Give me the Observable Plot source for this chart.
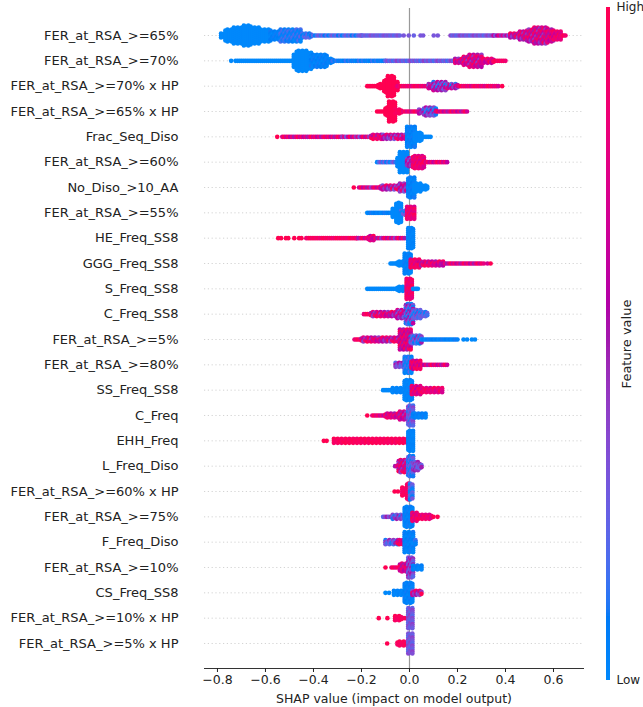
<!DOCTYPE html>
<html><head><meta charset="utf-8">
<script src="https://cdn.jsdelivr.net/npm/d3@7"></script>
<script src="https://cdn.jsdelivr.net/npm/@observablehq/plot@0.6"></script>
<style>
body{margin:0;background:#fff;}
#chart{position:relative;width:643px;height:707px;font-family:"DejaVu Sans",sans-serif;}
#chart svg{position:absolute;top:0;}
</style></head><body><div id="chart"></div>
<script>
// Feature names, top to bottom
const features = ["FER_at_RSA_>=65%", "FER_at_RSA_>=70%", "FER_at_RSA_>=70% x HP", "FER_at_RSA_>=65% x HP",
  "Frac_Seq_Diso", "FER_at_RSA_>=60%", "No_Diso_>10_AA", "FER_at_RSA_>=55%", "HE_Freq_SS8", "GGG_Freq_SS8",
  "S_Freq_SS8", "C_Freq_SS8", "FER_at_RSA_>=5%", "FER_at_RSA_>=80%", "SS_Freq_SS8", "C_Freq", "EHH_Freq",
  "L_Freq_Diso", "FER_at_RSA_>=60% x HP", "FER_at_RSA_>=75%", "F_Freq_Diso", "FER_at_RSA_>=10%",
  "CS_Freq_SS8", "FER_at_RSA_>=10% x HP", "FER_at_RSA_>=5% x HP"];
const xTicks = [-0.8, -0.6, -0.4, -0.2, 0.0, 0.2, 0.4, 0.6];
const colorLabels = ["Low", "High"];
const colorTitle = "Feature value";

// Swarm segments per feature: [shapFrom, shapTo, stackDepth (points each side), featureValueA, featureValueB]
const sFER65 = [[-0.785,-0.767,1,0],[-0.767,-0.732,3,0],[-0.732,-0.69,4,0],[-0.69,-0.662,5,0],[-0.662,-0.628,4,0],
  [-0.628,-0.579,3,0],[-0.579,-0.537,2,0,0.1],[-0.537,-0.454,3,0,0.2],[-0.454,-0.41,1,0,0.25],[-0.41,-0.2,0,0.05,0.3],
  [-0.2,-0.04,0,0.2,0.35],[-0.024,-0.024,0,0.3],[-0.003,-0.003,0,0.3],[0.018,0.018,0,0.25],[0.046,0.046,0,0.3],
  [0.057,0.057,0,0.3],[0.101,0.101,0,0.3],[0.118,0.118,0,0.3],[0.171,0.35,0,0.2,0.4],[0.35,0.42,0,0.3,0.8],
  [0.42,0.46,1,0.4,1],[0.46,0.49,2,0.4,1],[0.49,0.52,3,0.4,1],[0.52,0.575,4,0.4,1],[0.575,0.60,3,0.5,1],
  [0.60,0.63,2,0.6,1],[0.63,0.65,0,0.8,1]];
const sFER70 = [[-0.743,-0.743,0,0],[-0.725,-0.482,0,0],[-0.482,-0.47,3,0],[-0.47,-0.43,5,0],[-0.43,-0.41,4,0],
  [-0.41,-0.345,3,0,0.1],[-0.345,-0.32,1,0,0.1],[-0.32,-0.1,0,0,0.15],[-0.1,0.19,0,0.15,0.4],[0.19,0.226,1,0.4,1],
  [0.226,0.25,2,0.4,1],[0.25,0.30,3,0.4,1],[0.30,0.35,1,0.6,1],[0.35,0.40,0,0.85,1]];
const sFER70HP = [[-0.176,-0.13,0,1],[-0.13,-0.105,1,1],[-0.105,-0.09,3,1],[-0.09,-0.065,5,1],[-0.065,-0.05,2,1],
  [-0.05,0.08,0,0.75,1],[0.08,0.1,1,0.3,0.8],[0.1,0.15,2,0.1,0.7],[0.15,0.2,1,0,0.8],[0.2,0.37,0,0.7,1],[0.386,0.386,0,1]];
const sFER65HP = [[-0.135,-0.1,0,1],[-0.1,-0.085,2,1],[-0.085,-0.06,5,1],[-0.06,-0.035,1,0.9,1],[-0.035,0.04,0,0.7,1],
  [0.04,0.06,1,0.3,0.7],[0.06,0.11,2,0,0.6],[0.11,0.24,0,0.5,1]];
const sFracDiso = [[-0.551,-0.551,0,1],[-0.53,-0.28,0,0.5,1],[-0.28,-0.16,0,0.3,1],[-0.16,-0.11,1,0.5,1],
  [-0.11,-0.01,1,0.3,0.9],[-0.01,0.022,5,0,0.1],[0.022,0.05,2,0],[0.05,0.088,0,0]];
const sFER60 = [[-0.135,-0.05,0,0,0.35],[-0.05,-0.04,2,0],[-0.04,-0.01,5,0],[-0.01,0.015,2,0.3,0.7],
  [0.015,0.06,3,0.7,1],[0.06,0.157,0,0.6,1]];
const sNoDiso = [[-0.232,-0.232,0,1],[-0.21,-0.12,0,0.4,1],[-0.12,-0.04,1,0.3,1],[-0.04,-0.005,2,0.3,0.8],
  [-0.005,0.02,5,0,0.1],[0.02,0.045,2,0],[0.045,0.074,1,0]];
const sFER55 = [[-0.176,-0.07,0,0,0.1],[-0.07,-0.055,2,0],[-0.055,-0.035,5,0],[-0.035,-0.01,1,0,0.3],[-0.01,0.02,3,0.7,1]];
const sHE = [[-0.547,-0.547,0,1],[-0.535,-0.535,0,1],[-0.515,-0.505,0,1],[-0.48,-0.48,0,1],[-0.46,-0.45,0,1],
  [-0.43,-0.22,0,0.85,1],[-0.22,-0.17,0,0.5,1],[-0.17,-0.15,1,0.6,1],[-0.15,-0.02,0,0.4,1],[-0.005,0.015,5,0,0.05]];
const sGGG = [[-0.079,-0.05,0,0],[-0.05,-0.02,1,0],[-0.02,0.005,5,0,0.1],[0.005,0.04,2,0.7,1],[0.04,0.14,1,0.5,1],
  [0.14,0.30,0,0.5,1],[0.31,0.31,0,0.8],[0.325,0.325,0,0.7],[0.338,0.338,0,1]];
const sS = [[-0.176,-0.05,0,0],[-0.05,-0.02,1,0],[-0.012,0.01,5,0.75,1],[0.015,0.035,0,0]];
const sCSS8 = [[-0.19,-0.16,0,0.8,1],[-0.16,-0.05,1,0.4,1],[-0.05,-0.015,2,0.3,0.9],[-0.015,0.015,5,0,0.6],
  [0.015,0.045,2,0,0.4],[0.045,0.074,1,0,0.3]];
const sFER5 = [[-0.229,-0.2,0,0.8,1],[-0.2,-0.04,1,0.4,1],[-0.04,0.005,5,0.5,1],[0.005,0.05,2,0,0.5],[0.05,0.2,0,0,0.1],
  [0.225,0.225,0,0],[0.24,0.24,0,0],[0.26,0.26,0,0],[0.273,0.273,0,0]];
const sFER80 = [[-0.058,-0.02,1,0.2,0.6],[-0.02,0.008,4,0,0.2],[0.008,0.045,2,0.6,1],[0.045,0.157,0,0.5,1]];
const sSS = [[-0.11,-0.07,0,0],[-0.07,-0.02,1,0,0.05],[-0.02,0.01,5,0,0.05],[0.01,0.045,2,0.6,1],[0.045,0.136,1,0.7,1]];
const sC = [[-0.176,-0.176,0,1],[-0.155,-0.1,0,0.6,1],[-0.1,-0.04,1,0.5,1],[-0.04,-0.005,2,0.4,0.9],
  [-0.005,0.015,5,0.1,0.4],[0.015,0.067,1,0,0.1]];
const sEHH = [[-0.357,-0.357,0,1],[-0.345,-0.345,0,1],[-0.315,-0.01,1,0.9,1],[-0.005,0.015,5,0,0.05]];
const sLDiso = [[-0.06,-0.045,0,0.5,1],[-0.045,-0.005,3,0.4,1],[-0.005,0.015,5,0,0.3],[0.015,0.035,2,0.2,0.5],
  [0.035,0.05,1,0.2,0.5]];
const sFER60HP = [[-0.062,-0.062,0,1],[-0.048,-0.048,0,1],[-0.03,-0.01,2,0.85,1],[-0.01,0.002,4,0.85,1],[0.002,0.012,4,0,0.3]];
const sFER75 = [[-0.11,-0.07,0,0.2,0.5],[-0.07,-0.02,1,0.1,0.5],[-0.02,0.012,5,0,0.1],[0.012,0.03,2,0.6,1],
  [0.03,0.09,1,0.7,1],[0.1,0.1,0,1],[0.117,0.117,0,1]];
const sFDiso = [[-0.10,-0.05,1,0.1,0.5],[-0.05,-0.02,1,0.6,1],[-0.02,0.015,5,0,0.1],[0.015,0.025,1,0,0.2]];
const sFER10 = [[-0.1,-0.1,0,1],[-0.075,-0.05,0,0.7,1],[-0.04,-0.005,2,0.5,1],[-0.005,0.015,5,0.2,0.6],[0.015,0.05,1,0,0.1]];
const sCS = [[-0.1,-0.1,0,0],[-0.085,-0.085,0,0],[-0.065,-0.02,1,0,0.05],[-0.02,0.012,5,0,0.1],[0.012,0.05,1,0.3,1]];
const sFER10HP = [[-0.128,-0.128,0,1],[-0.092,-0.092,0,1],[-0.06,-0.035,1,0.9,1],[-0.035,-0.01,0,0.9,1],[-0.005,0.012,5,0.2,0.4]];
const sFER5HP = [[-0.093,-0.093,0,1],[-0.05,-0.015,1,0.9,1],[-0.005,0.012,5,0.2,0.4]];

const swarms = [sFER65, sFER70, sFER70HP, sFER65HP, sFracDiso, sFER60, sNoDiso, sFER55, sHE, sGGG, sS, sCSS8,
  sFER5, sFER80, sSS, sC, sEHH, sLDiso, sFER60HP, sFER75, sFDiso, sFER10, sCS, sFER10HP, sFER5HP];

// ---- swarm layout (rendering only) ----
const rowPx = 25.33, dx = 0.008, dyRow = 2.0 / rowPx;
const points = [];
swarms.forEach((segs, i) => {
  let j = 0;
  for (const [x0, x1, n, c1, c2 = c1] of segs) {
    const cols = x1 > x0 ? Math.max(1, Math.round((x1 - x0) / dx)) + 1 : 1;
    for (let a = 0; a < cols; a++, j++) {
      const xv = cols === 1 ? x0 : x0 + a * (x1 - x0) / (cols - 1);
      const offs = [];
      if (n > 0 && j % 2 === 1) { for (let k = -n; k < n; k++) offs.push(k + 0.5); }
      else { for (let k = -n; k <= n; k++) offs.push(k); }
      offs.forEach((k, q) => {
        const f = ((j * 3 + q * 5) % 7) / 6;
        points.push({x: xv, y: i + k * dyRow, c: c1 + f * (c2 - c1)});
      });
    }
  }
});

// SHAP red-blue colormap (Lch: L 54 -> 40 -> 54, C 70 -> 90, h 266.9 -> 380.3)
function shapColor(t) {
  const L = t < 0.5 ? 54 - 28 * t : 40 + 28 * (t - 0.5);
  const C = 70 + 20 * t;
  const H = 266.93 + 113.39 * t;
  return d3.hcl(H % 360, C, L).formatHex();
}
const colorOpts = {type: "linear", domain: [0, 1], interpolate: t => shapColor(t)};
const rows = d3.range(features.length);

const main = Plot.plot({
  width: 590, height: 707,
  marginLeft: 204, marginRight: 7, marginTop: 8, marginBottom: 39,
  style: {fontFamily: "'DejaVu Sans', sans-serif", fontSize: "13px", color: "#222", background: "transparent"},
  x: {domain: [-0.854, 0.725]},
  y: {domain: [-1.066, 24.987], reverse: true},
  color: colorOpts,
  marks: [
    Plot.ruleY(rows, {stroke: "#c8c8c8", strokeWidth: 0.8, strokeDasharray: "1.2,2.6"}),
    Plot.ruleX([0], {stroke: "#999", strokeWidth: 1.2}),
    Plot.dot(points, {x: "x", y: "y", r: 2.3, fill: "c", stroke: null}),
    Plot.frame({anchor: "bottom", stroke: "#333"}),
    Plot.axisY(rows, {tickFormat: i => features[i], tickSize: 0, tickPadding: 26, fontSize: 13, label: null}),
    Plot.axisX(xTicks, {tickFormat: d3.format(".1f"), tickSize: 4, tickPadding: 3, fontSize: 12.5,
      label: "SHAP value (impact on model output)", labelAnchor: "center", labelArrow: "none", labelOffset: 34})
  ]
});
main.style.left = "0px";

const stops = d3.range(0, 1, 0.005);
const bar = Plot.plot({
  width: 53, height: 707,
  marginLeft: 16, marginRight: 33, marginTop: 7, marginBottom: 27,
  style: {fontFamily: "'DejaVu Sans', sans-serif", fontSize: "12px", color: "#222", background: "transparent"},
  x: {domain: [0, 1], axis: null},
  y: {domain: [0, 1]},
  color: colorOpts,
  marks: [
    Plot.rect(stops, {x1: 0, x2: 1, y1: d => d, y2: d => Math.min(1, d + 0.007), fill: d => d}),
    Plot.axisY([0, 1], {anchor: "right", tickSize: 0, tickPadding: 6, tickFormat: d => colorLabels[d], fontSize: 12, label: null}),
    Plot.text([colorTitle], {frameAnchor: "right", dx: 16, rotate: -90, textAnchor: "middle", fontSize: 13, fill: "#222"})
  ]
});
bar.style.left = "590px";

document.getElementById("chart").append(main, bar);
</script></body></html>
